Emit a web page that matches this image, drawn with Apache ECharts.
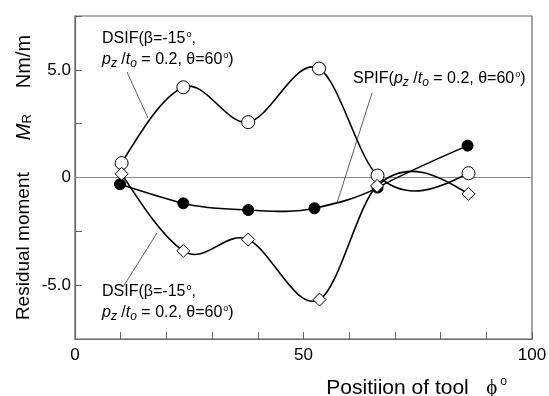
<!DOCTYPE html>
<html>
<head>
<meta charset="utf-8">
<script src="https://cdn.jsdelivr.net/npm/echarts@6/dist/echarts.min.js"></script>
<style>html,body{margin:0;padding:0;background:#fff}#c{width:549px;height:396px}</style>
</head>
<body>
<div id="c"></div>
<script>
// Data
var dsifUpperX = [10.2, 23.7, 37.9, 53.4, 66.2, 86.1];
var dsifUpperY = [0.67, 4.19, 2.57, 5.06, 0.09, 0.20];
var spifX = [9.85, 23.7, 37.9, 52.4, 66.2, 85.9];
var spifY = [-0.31, -1.20, -1.51, -1.43, -0.47, 1.48];
var dsifLowerX = [10.2, 23.7, 37.9, 53.5, 66.1, 86.1];
var dsifLowerY = [0.17, -3.41, -2.88, -5.67, -0.39, -0.76];
var xTickLabels = [0, 50, 100];
var yTickLabels = {'-5': '-5.0', '0': '0', '5': '5.0'};

function pairs(xs, ys) { return xs.map(function (x, i) { return [x, ys[i]]; }); }

// cardinal-type cubic spline slopes (drawing method for the smooth curves)
var TENSION = 1.3;
function splineSlopes(xs, ys) {
  var n = xs.length, s = new Array(n), i;
  for (i = 1; i < n - 1; i++) s[i] = TENSION * (ys[i + 1] - ys[i - 1]) / (xs[i + 1] - xs[i - 1]);
  var sec0 = (ys[1] - ys[0]) / (xs[1] - xs[0]);
  var secN = (ys[n - 1] - ys[n - 2]) / (xs[n - 1] - xs[n - 2]);
  s[0] = (3 * sec0 - s[1]) / 2;
  s[n - 1] = (3 * secN - s[n - 2]) / 2;
  return s;
}

function curveSeries(name, xs, ys) {
  var s = splineSlopes(xs, ys);
  return {
    name: name + ' curve', type: 'custom', data: pairs(xs, ys), z: 2, silent: true,
    renderItem: function (params, api) {
      var i = params.dataIndex;
      if (i >= xs.length - 1) return null;
      var h = xs[i + 1] - xs[i];
      var p0 = api.coord([xs[i], ys[i]]);
      var c1 = api.coord([xs[i] + h / 3, ys[i] + s[i] * h / 3]);
      var c2 = api.coord([xs[i + 1] - h / 3, ys[i + 1] - s[i + 1] * h / 3]);
      var p1 = api.coord([xs[i + 1], ys[i + 1]]);
      return {
        type: 'bezierCurve',
        shape: {x1: p0[0], y1: p0[1], cpx1: c1[0], cpy1: c1[1], cpx2: c2[0], cpy2: c2[1], x2: p1[0], y2: p1[1]},
        style: {stroke: '#000', lineWidth: 1.6, fill: null}
      };
    }
  };
}

var FONT = '"Liberation Sans", Arial, sans-serif';
var chart = echarts.init(document.getElementById('c'), null, {renderer: 'canvas'});

var option = {
  animation: false,
  grid: {left: 75, right: 17, top: 16, bottom: 57, containLabel: false, outerBoundsMode: 'none',
    show: true, borderColor: '#666', borderWidth: 1.2, backgroundColor: 'transparent'},
  xAxis: {
    type: 'value', min: 0, max: 100, interval: 10,
    axisLine: {show: true, onZero: false, lineStyle: {color: '#666', width: 1.2}},
    axisTick: {inside: true, length: 7, lineStyle: {color: '#666'}},
    splitLine: {show: false},
    axisLabel: {
      color: '#000', fontFamily: FONT, fontSize: 17, margin: 8,
      formatter: function (v) { return xTickLabels.indexOf(v) >= 0 ? String(v) : ''; }
    },
    name: 'Positiion of tool   {phi|ϕ}{sup|o}',
    nameLocation: 'end', nameGap: -25,
    nameTextStyle: {
      color: '#000', fontFamily: FONT, fontSize: 21, align: 'right', verticalAlign: 'top',
      padding: [37, 0, 0, 0],
      rich: {
        phi: {fontFamily: '"Liberation Serif", serif', fontSize: 21, color: '#000'},
        sup: {fontSize: 12, verticalAlign: 'top', padding: [0, 0, 12, 3], color: '#000'}
      }
    }
  },
  yAxis: {
    type: 'value', min: -7.5, max: 7.5, interval: 2.5,
    axisLine: {show: true, onZero: false, lineStyle: {color: '#666', width: 1.2}},
    axisTick: {inside: true, length: 7, lineStyle: {color: '#666'}},
    splitLine: {show: false},
    axisLabel: {
      color: '#000', fontFamily: FONT, fontSize: 17, margin: 4,
      formatter: function (v) { var k = String(v); return yTickLabels.hasOwnProperty(k) ? yTickLabels[k] : ''; }
    },
    name: '{a|Residual moment}{i|M}{sub|R}{b|Nm/m}',
    nameLocation: 'middle', nameGap: 41, nameMoveOverlap: false,
    nameTextStyle: {
      color: '#000', fontFamily: FONT, fontSize: 19,
      rich: {
        a: {fontSize: 19, fontFamily: FONT, color: '#000'},
        i: {fontStyle: 'italic', fontSize: 20, fontFamily: FONT, color: '#000', padding: [0, 0, 0, 32]},
        sub: {fontSize: 13, fontFamily: FONT, color: '#000', padding: [7, 0, 0, 0]},
        b: {fontSize: 20, fontFamily: FONT, color: '#000', padding: [0, 0, 0, 26]}
      }
    }
  },
  series: [
    curveSeries('SPIF', spifX, spifY),
    curveSeries('DSIF upper', dsifUpperX, dsifUpperY),
    curveSeries('DSIF lower', dsifLowerX, dsifLowerY),
    {
      name: 'SPIF', type: 'line', data: pairs(spifX, spifY),
      lineStyle: {width: 0, opacity: 0}, symbol: 'circle', symbolSize: 11, showAllSymbol: true,
      itemStyle: {color: '#000', borderColor: '#000', borderWidth: 1},
      z: 3,
      markLine: {
        silent: true, symbol: 'none', label: {show: false},
        lineStyle: {color: '#888', width: 1, type: 'solid'},
        data: [{yAxis: 0}], z: 1
      }
    },
    {
      name: 'DSIF upper', type: 'line', data: pairs(dsifUpperX, dsifUpperY),
      lineStyle: {width: 0, opacity: 0}, symbol: 'circle', symbolSize: 13, showAllSymbol: true,
      itemStyle: {color: '#fff', borderColor: '#000', borderWidth: 1},
      z: 4
    },
    {
      name: 'DSIF lower', type: 'line', data: pairs(dsifLowerX, dsifLowerY),
      lineStyle: {width: 0, opacity: 0}, symbol: 'diamond', symbolSize: 13, showAllSymbol: true,
      itemStyle: {color: '#fff', borderColor: '#000', borderWidth: 1},
      z: 5
    }
  ],
  graphic: []
};

var labelRich = {
  n: {fontFamily: FONT, fontSize: 16, color: '#000'},
  i: {fontFamily: FONT, fontSize: 16, fontStyle: 'italic', color: '#000'},
  sub: {fontFamily: FONT, fontSize: 12, fontStyle: 'italic', color: '#000', padding: [7, 0, 0, 0]},
  sup: {fontFamily: FONT, fontSize: 9, color: '#000', padding: [0, 0, 9, 1]}
};
var line1 = '{n|DSIF(β=-15}{sup|o}{n|,}';
var line2 = '{i|p}{sub|z}{n| /}{i|t}{sub|o}{n| = 0.2, θ=60}{sup|o}{n|)}';
var spifText = '{n|SPIF(}{i|p}{sub|z}{n| /}{i|t}{sub|o}{n| = 0.2, θ=60}{sup|o}{n|)}';

function txt(x, y, s) {
  return {type: 'text', left: x, top: y, z: 10, silent: true,
    style: {text: s, rich: labelRich, fill: '#000', font: '16px ' + FONT}};
}
function ln(x1, y1, x2, y2) {
  return {type: 'line', z: 9, silent: true, shape: {x1: x1, y1: y1, x2: x2, y2: y2}, style: {stroke: '#333', lineWidth: 0.8}};
}
option.graphic = [
  txt(102, 30, line1), txt(102, 51, line2),
  txt(353, 70, spifText),
  txt(102, 283, line1), txt(102, 304, line2),
  ln(127, 72, 148, 118),
  ln(372, 93, 337, 203),
  ln(157, 233, 123, 287)
];
chart.setOption(option);
</script>
</body>
</html>
